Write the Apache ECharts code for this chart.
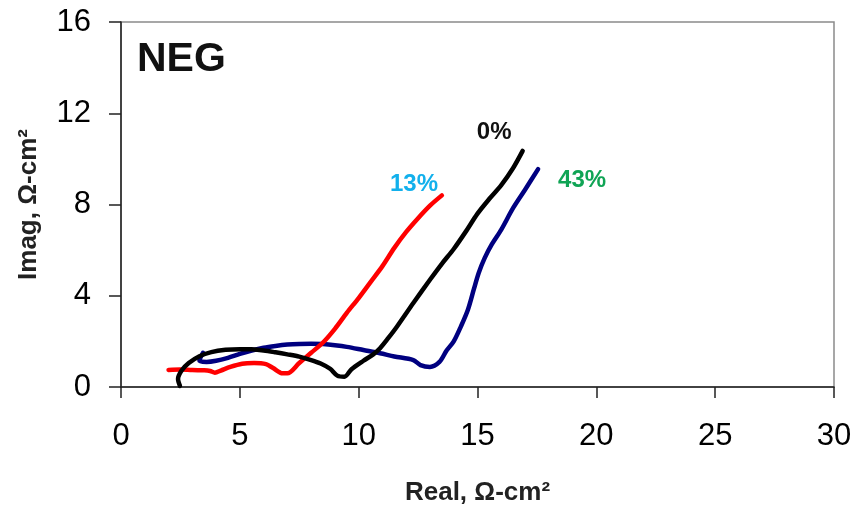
<!DOCTYPE html>
<html>
<head>
<meta charset="utf-8">
<style>
  html, body { margin: 0; padding: 0; background: #fff; }
  #chart { width: 862px; height: 508px; }
</style>
<script src="https://cdn.jsdelivr.net/npm/echarts@6/dist/echarts.min.js"></script>
</head>
<body>
<div id="chart"></div>
<script>
// Nyquist traces for the negative electrode: [real, imag] in ohm-cm^2
const trace0 = [
  [2.48, 0.05], [2.4, 0.35], [2.55, 0.72], [2.85, 1.05], [3.3, 1.35], [3.8, 1.53],
  [4.4, 1.63], [5.0, 1.66], [5.5, 1.65], [6.0, 1.6], [6.5, 1.52], [7.0, 1.43],
  [7.5, 1.33], [8.0, 1.18], [8.4, 1.03], [8.8, 0.8], [9.1, 0.5], [9.4, 0.45],
  [9.7, 0.78], [10.2, 1.15], [10.6, 1.42], [10.9, 1.7], [11.25, 2.15], [11.6, 2.63],
  [12.3, 3.68], [13.0, 4.7], [13.5, 5.4], [14.0, 6.05], [14.5, 6.8],
  [15.0, 7.6], [15.5, 8.25], [16.0, 8.85], [16.5, 9.6], [16.9, 10.35]
];
const trace13 = [
  [2.0, 0.75], [2.5, 0.77], [3.0, 0.74], [3.5, 0.73], [3.75, 0.7], [3.95, 0.63],
  [4.2, 0.72], [4.6, 0.88], [5.1, 1.02], [5.6, 1.05], [6.1, 1.0], [6.4, 0.83],
  [6.8, 0.6], [7.0, 0.6], [7.5, 1.05], [8.0, 1.5], [8.5, 1.95], [9.0, 2.55],
  [9.5, 3.25], [10.0, 3.9], [10.5, 4.6], [11.0, 5.3], [11.5, 6.1], [12.0, 6.8],
  [12.5, 7.4], [13.0, 7.95], [13.5, 8.4]
];
const trace43 = [
  [3.45, 1.5], [3.3, 1.15], [3.6, 1.1], [4.0, 1.15], [4.5, 1.28], [5.0, 1.45],
  [5.5, 1.6], [6.0, 1.72], [6.5, 1.8], [7.0, 1.86], [7.5, 1.89], [8.0, 1.9],
  [8.5, 1.88], [9.0, 1.83], [9.5, 1.76], [10.2, 1.62], [10.9, 1.48], [11.5, 1.34],
  [12.3, 1.18], [12.6, 0.96], [13.0, 0.88], [13.4, 1.1], [13.7, 1.6], [14.0, 2.0],
  [14.3, 2.65], [14.6, 3.4], [14.85, 4.3], [15.05, 5.0], [15.3, 5.65],
  [15.6, 6.25], [16.0, 6.9], [16.5, 7.85], [17.0, 8.65], [17.55, 9.55]
];

// Series names and where their tags sit (data units)
const seriesNames = ['0%', '13%', '43%'];
const tagAnchors = [[15.7, 11.15], [12.33, 8.9], [19.4, 9.07]];

const lineColors = ['#000000', '#ff0000', '#000080'];
const tagColors = ['#111111', '#12b0ec', '#10a455'];

const xTicks = { min: 0, max: 30, step: 5 };
const yTicks = { min: 0, max: 16, step: 4 };

const FONT = '"Liberation Sans", Arial, sans-serif';

const traces = [trace0, trace13, trace43];

const series = traces.map((data, i) => ({
  name: seriesNames[i],
  type: 'line',
  data: data,
  showSymbol: false,
  smooth: 0.3,
  z: 3 + (i === 0 ? 2 : i === 1 ? 1 : 0),
  lineStyle: { color: lineColors[i], width: 4.5, cap: 'round', join: 'round' },
  markPoint: {
    symbol: 'circle',
    symbolSize: 0,
    data: [{ coord: tagAnchors[i] }],
    label: {
      show: true,
      position: 'inside',
      formatter: seriesNames[i],
      color: tagColors[i],
      fontFamily: FONT,
      fontWeight: 'bold',
      fontSize: 24
    }
  }
}));

const chart = echarts.init(document.getElementById('chart'), null, { renderer: 'canvas' });
chart.setOption({
  animation: false,
  backgroundColor: '#ffffff',
  grid: {
    left: 121, right: 28, top: 22, bottom: 121,
    outerBoundsMode: 'none',
    containLabel: false,
    show: true, borderColor: '#8a8a8a', borderWidth: 1.5, backgroundColor: 'transparent'
  },
  xAxis: {
    type: 'value',
    min: xTicks.min, max: xTicks.max, interval: xTicks.step,
    name: 'Real, Ω-cm²',
    nameLocation: 'middle',
    nameGap: 93,
    nameTextStyle: { fontFamily: FONT, fontWeight: 'bold', fontSize: 26, color: '#222' },
    axisLine: { show: true, lineStyle: { color: '#222', width: 1.5 } },
    axisTick: { show: true, inside: false, length: 11, lineStyle: { color: '#222', width: 1.5 } },
    axisLabel: { fontFamily: FONT, fontSize: 31, color: '#000', margin: 34 },
    splitLine: { show: false }
  },
  yAxis: {
    type: 'value',
    min: yTicks.min, max: yTicks.max, interval: yTicks.step,
    name: 'Imag, Ω-cm²',
    nameLocation: 'middle',
    nameGap: 79,
    nameTextStyle: { fontFamily: FONT, fontWeight: 'bold', fontSize: 26, color: '#222' },
    axisLine: { show: true, lineStyle: { color: '#222', width: 1.5 } },
    axisTick: { show: true, inside: false, length: 12, lineStyle: { color: '#222', width: 1.5 } },
    axisLabel: { fontFamily: FONT, fontSize: 31, color: '#000', margin: 30 },
    splitLine: { show: false }
  },
  graphic: [{
    type: 'text',
    left: 137,
    top: 39,
    style: { text: 'NEG', fontFamily: FONT, fontWeight: 'bold', fontSize: 41, fill: '#111' }
  }],
  series: series
});
</script>
</body>
</html>
